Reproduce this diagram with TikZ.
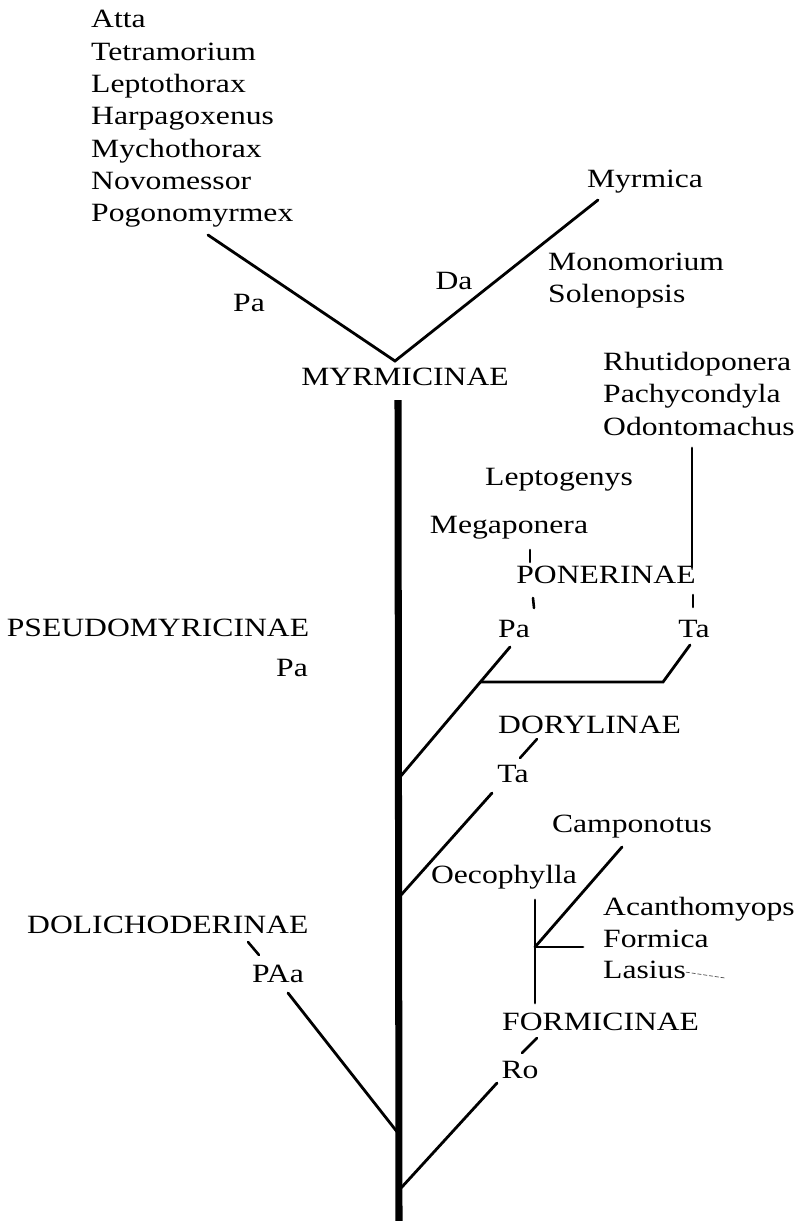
\documentclass[tikz,border=0pt]{standalone}
\usepackage{fontspec}
\setmainfont{Liberation Serif}[FakeStretch=1.2]
\usetikzlibrary{positioning}

\begin{document}
\begin{tikzpicture}[
    x=0.03cm, y=-0.03cm, % pixel grid of the scanned figure, y downwards
    font=\fontsize{22.5}{27}\selectfont,
    line cap=round
  ]

  % Styles for genus names, short tags and the branches
  \tikzset{
    taxon/.style={inner sep=0pt, anchor=base west},
    tag/.style={inner sep=0pt, anchor=base},
    branch/.style={line width=2.4pt},
    trunkline/.style={line width=6pt, line cap=butt},
    tickmark/.style={line width=2.2pt}
  }

  \useasboundingbox (0,0) rectangle (799,1221);

  % Myrmicinae: genera on both arms
  \node (atta)  [taxon] at (91,27)  {Atta};
  \node (tetra) [taxon] at (91,60)  {Tetramorium};
  \node (lepto) [taxon] at (91,92)  {Leptothorax};
  \node (harpa) [taxon] at (91,124) {Harpagoxenus};
  \node (mycho) [taxon] at (91,157) {Mychothorax};
  \node (novo)  [taxon] at (91,189) {Novomessor};
  \node (pogo)  [taxon] at (91,221) {Pogonomyrmex};
  \node (myrm)  [tag] at (645,187) {Myrmica};
  \node (mono)  [taxon] at (548,270) {Monomorium};
  \node (sole)  [taxon] at (548,302) {Solenopsis};
  \node (mpa)   [tag] at (249,311) {Pa};
  \node (mda)   [tag] at (454,289) {Da};
  \node (myrmicinae) [tag] at (405,385) {MYRMICINAE};

  % Ponerinae
  \node (rhuti) [taxon] at (603,370) {Rhutidoponera};
  \node (pachy) [taxon] at (603,402) {Pachycondyla};
  \node (odon)  [taxon] at (603,435) {Odontomachus};
  \node (leptog) [tag] at (559,485) {Leptogenys};
  \node (mega)  [tag] at (509,533) {Megaponera};
  \node (ponerinae) [tag] at (606,583) {PONERINAE};
  \node (ppa)   [tag] at (514,637) {Pa};
  \node (pta)   [tag] at (694,637) {Ta};

  % Pseudomyrmecinae
  \node (pseudo) [tag] at (158,636) {PSEUDOMYRICINAE};
  \node (pspa)  [tag] at (292,676) {Pa};

  % Dorylinae
  \node (dorylinae) [taxon] at (498,733) {DORYLINAE};
  \node (dta)   [tag] at (513,782) {Ta};

  % Formicinae
  \node (campo) [tag] at (632,832) {Camponotus};
  \node (oeco)  [tag] at (504,883) {Oecophylla};
  \node (acan)  [taxon] at (603,915) {Acanthomyops};
  \node (form)  [taxon] at (603,947) {Formica};
  \node (lasius) [taxon] at (603,978) {Lasius};
  \node (formicinae) [taxon] at (502,1030) {FORMICINAE};
  \node (fro)   [tag] at (520,1078) {Ro};

  % Dolichoderinae
  \node (dolicho) [taxon] at (27,933) {DOLICHODERINAE};
  \node (dpaa)  [tag] at (278,982) {PAa};

  % Branch points
  \coordinate (vtip)    at (395,361);
  \coordinate (leftarm) at (208,235);
  \coordinate (rightarm) at (598,200);
  \coordinate (trunktop) at (398,400);
  \coordinate (trunkbot) at (399,1221);
  \coordinate (jpon)  at (400,777);
  \coordinate (jdor)  at (401,895);
  \coordinate (jdol)  at (398,1133);
  \coordinate (jfor)  at (401,1188);
  \coordinate (ptop)  at (510,647);
  \coordinate (pfork) at (480,682);
  \coordinate (pbend) at (663,682);
  \coordinate (ptatop) at (690,645);
  \coordinate (odbot) at (692,567);
  \coordinate (odtop) at (692,448);
  \coordinate (dtop)  at (492,793);
  \coordinate (ftop)  at (497,1083);
  \coordinate (dltop) at (288,993);
  \coordinate (fvtop) at (535,900);
  \coordinate (fvbot) at (535,1003);
  \coordinate (fknot) at (535,947);
  \coordinate (fcamp) at (622,847);
  \coordinate (fside) at (583,947);
  \coordinate (lastail) at (725,978);

  % Main stem
  \draw[trunkline] (trunktop) -- (trunkbot);

  % Myrmicinae fork
  \draw[branch] (leftarm) -- (vtip) -- (rightarm);

  % Side branches off the stem
  \draw[branch] (jpon) -- (ptop);
  \draw[branch] (pfork) -- (pbend) -- (ptatop);
  \draw[branch] (odtop) -- (odbot);
  \draw[branch] (jdor) -- (dtop);
  \draw[branch] (jdol) -- (dltop);
  \draw[branch] (jfor) -- (ftop);

  % Formicinae sub-tree
  \draw[branch] (fvtop) -- (fvbot);
  \draw[branch] (fknot) -- (fcamp);
  \draw[branch] (fknot) -- (fside);
  \draw[black!70, line width=0.6pt, densely dashed] ([yshift=5pt]lasius.base east) -- (lastail);

  % Small ticks joining names and tags
  \draw[tickmark] (530,550) -- (530,562);
  \draw[tickmark] (533,598) -- (534,608);
  \draw[tickmark] (693,595) -- (693,607);
  \draw[tickmark] (520,758) -- (537,739);
  \draw[tickmark] (522,1053) -- (537,1038);
  \draw[tickmark] (248,942) -- (259,955);

\end{tikzpicture}
\end{document}
